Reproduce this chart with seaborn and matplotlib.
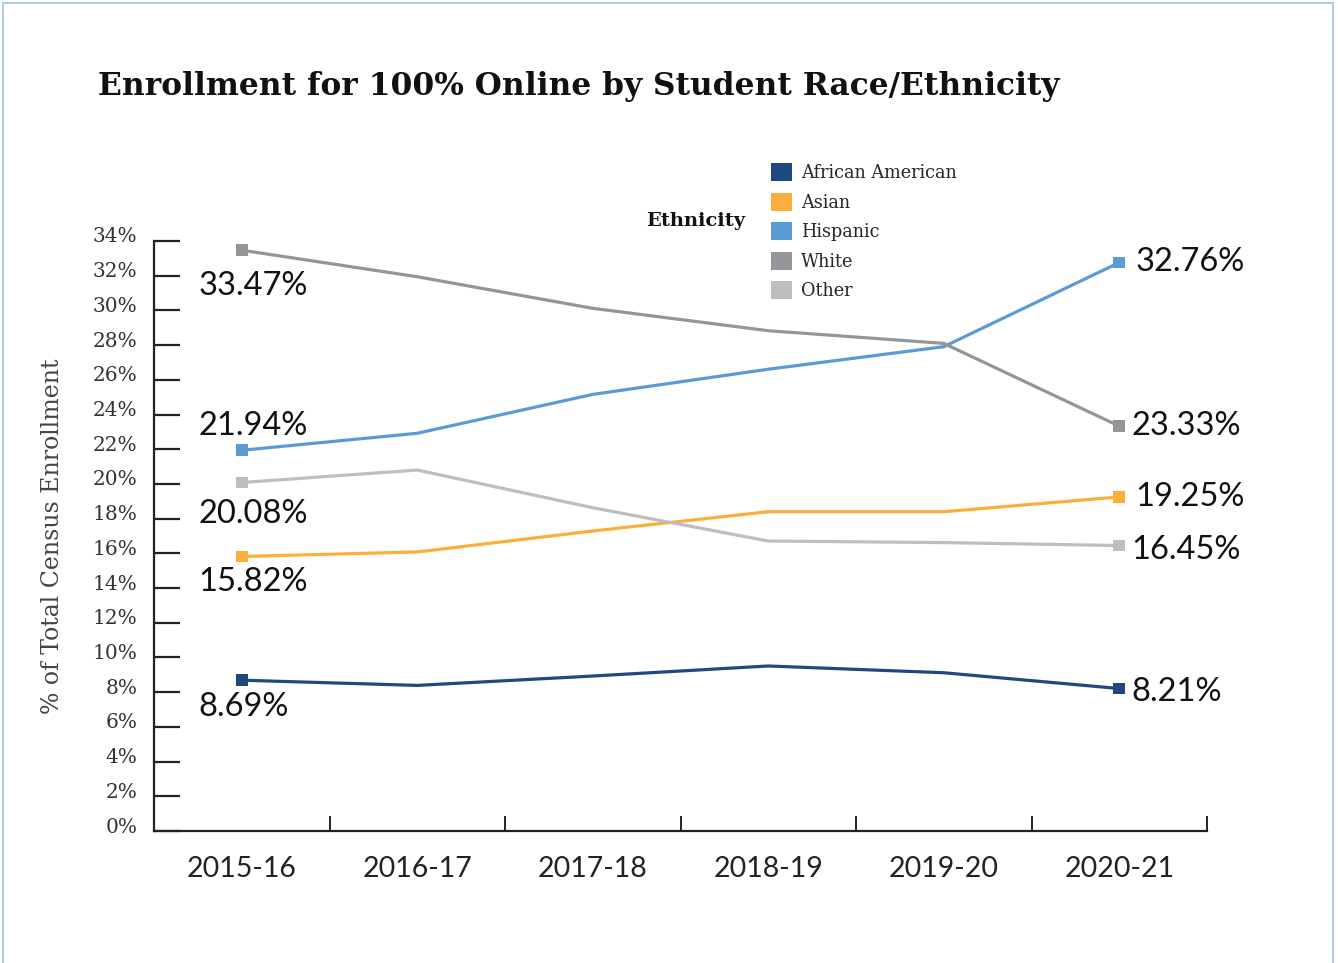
import matplotlib
matplotlib.use("Agg")
import matplotlib.pyplot as plt
import matplotlib.transforms as mtransforms
from matplotlib.patches import Patch, Rectangle
import pandas as pd
import seaborn as sns

# ---- data -------------------------------------------------------------
years = ["2015-16", "2016-17", "2017-18", "2018-19", "2019-20", "2020-21"]
african_american = [8.69, 8.39, 8.93, 9.51, 9.12, 8.21]
asian = [15.82, 16.08, 17.29, 18.40, 18.40, 19.25]
hispanic = [21.94, 22.92, 25.16, 26.61, 27.91, 32.76]
white = [33.47, 31.94, 30.12, 28.83, 28.10, 23.33]
other = [20.08, 20.80, 18.63, 16.71, 16.62, 16.45]

groups = ["African American", "Asian", "Hispanic", "White", "Other"]
series = [african_american, asian, hispanic, white, other]
y_ticks = list(range(0, 35, 2))

colors = ["#1F497D", "#FBAE3C", "#5B9BD5", "#939598", "#BCBEC0"]
palette = dict(zip(groups, colors))

df = pd.DataFrame(
    [(yr, g, v) for g, vals in zip(groups, series) for yr, v in zip(years, vals)],
    columns=["Year", "Ethnicity", "Share"],
)
df["pos"] = df["Year"].map({y: i for i, y in enumerate(years)})

sns.set_style("white")
plt.rcParams["font.family"] = ["DejaVu Serif"]

W, H, DPI = 1338, 963, 100
fig = plt.figure(figsize=(W / DPI, H / DPI), dpi=DPI)
ax = fig.add_axes([154 / W, 1 - 831 / H, (1207 - 154) / W, (831 - 241) / H])

sns.lineplot(data=df, x="pos", y="Share", hue="Ethnicity", hue_order=groups,
             palette=palette, linewidth=2.3, ax=ax, legend=False, sort=False)

# square markers at the first and last year only
ends = df[df["pos"].isin([0, len(years) - 1])]
sns.scatterplot(data=ends, x="pos", y="Share", hue="Ethnicity", hue_order=groups,
                palette=palette, marker="s", s=70, linewidth=0, ax=ax,
                legend=False, zorder=5)

ax.set_xlim(-0.5, len(years) - 0.5)
ax.set_ylim(0, 34)

# value labels at both ends
sans = ["Lato", "DejaVu Sans"]
left_dy = {"African American": -27, "Asian": -26, "Hispanic": 24,
           "White": -36, "Other": -31}
right_dx = {"African American": 12, "Asian": 16, "Hispanic": 16,
            "White": 12, "Other": 12}
right_dy = {"African American": -3, "Asian": 0, "Hispanic": 1,
            "White": 0, "Other": -4}
for g, vals in zip(groups, series):
    ax.annotate(f"{vals[0]:.2f}%", (0, vals[0]), xytext=(-43, left_dy[g]),
                textcoords="offset pixels", ha="left", va="center",
                fontsize=23.5, family=sans, color="#111111")
    ax.annotate(f"{vals[-1]:.2f}%", (len(years) - 1, vals[-1]),
                xytext=(right_dx[g], right_dy[g]), textcoords="offset pixels",
                ha="left", va="center", fontsize=23.5, family=sans,
                color="#111111")

# axes styling
for side in ["top", "right"]:
    ax.spines[side].set_visible(False)
for side in ["left", "bottom"]:
    ax.spines[side].set_color("#222222")
    ax.spines[side].set_linewidth(1.6)

ax.set_yticks(y_ticks)
ax.set_yticklabels([f"{t}%" for t in y_ticks])
ax.tick_params(axis="y", left=True, direction="in", length=19, width=1.6,
               color="#222222", pad=12, labelsize=14.5, labelcolor="#333333")
offset = mtransforms.ScaledTranslation(0, 6 / DPI, fig.dpi_scale_trans)
for lab in ax.get_yticklabels():
    lab.set_transform(lab.get_transform() + offset)

ax.set_xticks(range(len(years)))
ax.set_xticklabels(years, family=sans, fontsize=20.5, color="#222222")
ax.tick_params(axis="x", which="major", bottom=True, length=0, pad=18)
ax.set_xticks([i - 0.5 for i in range(len(years) + 1)], minor=True)
ax.tick_params(axis="x", which="minor", bottom=True, direction="in", length=11,
               width=1.4, color="#222222")

ax.set_xlabel("")
ax.set_ylabel("% of Total Census Enrollment", fontsize=17, color="#444444")
ax.yaxis.set_label_coords(-90 / (1207 - 154), 0.5)

# title
fig.text(98 / W, 1 - 87 / H, "Enrollment for 100% Online by Student Race/Ethnicity",
         fontsize=22.5, fontweight="bold", color="#111111", ha="left", va="center")

# legend
handles = [Patch(facecolor=palette[g], edgecolor="none", label=g) for g in groups]
fig.legend(handles=handles, loc="upper left",
           bbox_to_anchor=(764 / W, 1 - 156 / H), frameon=False, fontsize=12.7,
           handlelength=1.2, handleheight=1.2, handletextpad=0.5,
           labelspacing=0.6, borderaxespad=0)
fig.text(745 / W, 1 - 221 / H, "Ethnicity", fontsize=14, fontweight="bold",
         ha="right", va="center", color="#111111")

# thin outer frame
fig.patches.append(Rectangle((3 / W, -0.01), (1333 - 3) / W, 1 - 3 / H + 0.01,
                             transform=fig.transFigure, fill=False,
                             edgecolor="#9DC3E6", linewidth=1.2))

fig.savefig("out.png", dpi=DPI)
